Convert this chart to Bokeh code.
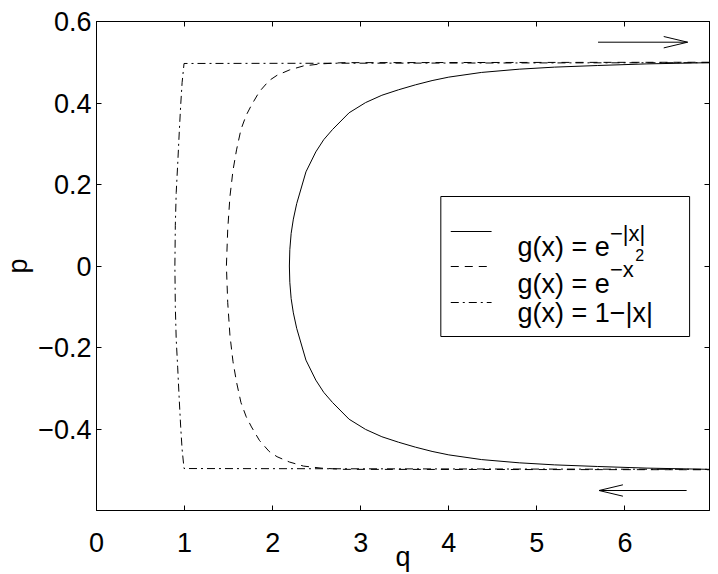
from bokeh.plotting import figure
from bokeh.models import (Range1d, FixedTicker, LinearAxis, BoxAnnotation, Label,
                          CustomJSTickFormatter)
from bokeh.embed import file_html
from bokeh.resources import INLINE

# ---------------- data ----------------
solid_q = [6.96, 6.25, 5.69, 5.2, 4.8, 4.37, 4.0, 3.81, 3.62, 3.43, 3.24, 3.055, 2.868, 2.68,
           2.58, 2.49, 2.378, 2.273, 2.235, 2.21, 2.195, 2.19, 2.195, 2.21, 2.235, 2.273,
           2.378, 2.49, 2.58, 2.68, 2.868, 3.055, 3.24, 3.43, 3.62, 3.81, 4.0, 4.37, 4.8,
           5.2, 5.69, 6.25, 6.96]
solid_p = [0.499, 0.496, 0.492, 0.488, 0.483, 0.475, 0.4635, 0.455, 0.4445, 0.4325, 0.419,
           0.401, 0.376, 0.335, 0.31, 0.280, 0.231, 0.153, 0.115, 0.08, 0.04, 0.0, -0.04,
           -0.08, -0.115, -0.153, -0.231, -0.280, -0.31, -0.335, -0.376, -0.401, -0.419,
           -0.4325, -0.4445, -0.455, -0.4635, -0.475, -0.483, -0.488, -0.492, -0.496, -0.499]

dashed_q = [6.96, 2.8, 2.55, 2.35, 2.19, 2.05, 1.96, 1.85, 1.76, 1.70, 1.64, 1.59, 1.55, 1.515,
            1.49, 1.475, 1.49, 1.515, 1.55, 1.59, 1.64, 1.70, 1.76, 1.85, 1.96, 2.05, 2.19,
            2.35, 2.55, 2.8, 6.96]
dashed_p = [0.5, 0.499, 0.496, 0.491, 0.481, 0.468, 0.455, 0.428, 0.395, 0.370, 0.335, 0.285,
            0.235, 0.17, 0.09, 0.0, -0.09, -0.17, -0.235, -0.285, -0.335, -0.370, -0.395,
            -0.428, -0.455, -0.468, -0.481, -0.491, -0.496, -0.499, -0.5]

dashdot_q = [6.96, 0.994, 0.972, 0.956, 0.94, 0.922, 0.905, 0.895, 0.89, 0.895, 0.905, 0.922,
             0.94, 0.956, 0.972, 0.994, 6.96]
dashdot_p = [0.499, 0.497, 0.45, 0.395, 0.33, 0.25, 0.18, 0.1, 0.0, -0.1, -0.18, -0.25, -0.33,
             -0.395, -0.45, -0.497, -0.499]

x_ticks = [0, 1, 2, 3, 4, 5, 6]
y_ticks = [-0.4, -0.2, 0, 0.2, 0.4, 0.6]
y_tick_labels = ["\u22120.4", "\u22120.2", "0", "0.2", "0.4", "0.6"]
x_tick_labels = ["0", "1", "2", "3", "4", "5", "6"]
x_title, y_title = "q", "p"

legend_labels = ["g(x) = e", "g(x) = e", "g(x) = 1\u2212|x|"]
legend_sups = ["\u2212|x|", "\u2212x", ""]
legend_supsups = ["", "2", ""]
legend_dashes = ["solid", "8 6", "8 4 2 4"]

XMIN, XMAX = 0.0, 6.96
YMIN, YMAX = -0.6, 0.6

# ---------------- layout (canvas pixels -> data helpers) ----------------
FX0, FX1 = 93.0, 709.0
FY0, FY1 = 21.0, 510.0
W, H = 718, 574


def dx(px):
    return XMIN + (px - FX0) / (FX1 - FX0) * (XMAX - XMIN)


def dy(py):
    return YMAX - (py - FY0) / (FY1 - FY0) * (YMAX - YMIN)


FONT = "Liberation Sans"
FS = "27px"

p = figure(width=W, height=H, output_backend="svg", toolbar_location=None,
           x_range=Range1d(XMIN, XMAX), y_range=Range1d(YMIN, YMAX),
           min_border_left=int(FX0), min_border_right=int(W - FX1),
           min_border_top=int(FY0), min_border_bottom=int(H - FY1),
           background_fill_color="white", border_fill_color="white")
p.grid.visible = False
p.outline_line_color = "black"
p.outline_line_width = 1

xa = p.xaxis[0]
xa.ticker = FixedTicker(ticks=x_ticks)
xa.major_label_overrides = {t: l for t, l in zip(x_ticks, x_tick_labels)}
xa.axis_label = x_title
xa.axis_label_standoff = -13
ya = p.yaxis[0]
ya.ticker = FixedTicker(ticks=y_ticks)
ya.major_label_overrides = {t: l for t, l in zip(y_ticks, y_tick_labels)}
ya.major_label_text_align = "right"
ya.axis_label = y_title
ya.axis_label_standoff = 2
for ax, st in ((xa, 22), (ya, 5)):
    ax.major_tick_in = 5
    ax.major_tick_out = 0
    ax.minor_tick_line_color = None
    ax.major_label_text_font = FONT
    ax.major_label_text_font_size = FS
    ax.major_label_text_color = "black"
    ax.axis_label_text_font = FONT
    ax.axis_label_text_font_size = FS
    ax.axis_label_text_font_style = "normal"
    ax.axis_label_text_color = "black"
    ax.axis_line_color = "black"
    ax.major_tick_line_color = "black"
    ax.major_label_standoff = st

for loc, tk in (("above", x_ticks), ("right", y_ticks)):
    ax = LinearAxis(ticker=FixedTicker(ticks=tk),
                    formatter=CustomJSTickFormatter(code="return ''"),
                    major_tick_in=5, major_tick_out=0, minor_tick_line_color=None,
                    major_label_text_font_size="0px", major_label_standoff=0,
                    axis_line_color="black", major_tick_line_color="black")
    p.add_layout(ax, loc)

# ---------------- legend box (under everything) ----------------
p.add_layout(BoxAnnotation(left=dx(439), right=dx(689), top=dy(196), bottom=dy(336),
                           fill_color="white", fill_alpha=1.0, line_color="black",
                           line_width=1, line_alpha=1.0, level="underlay"))

# ---------------- curves ----------------
p.line(solid_q, solid_p, line_color="black", line_width=1)
p.line(dashed_q, dashed_p, line_color="black", line_width=1, line_dash="8 6")
p.line(dashdot_q, dashdot_p, line_color="black", line_width=1, line_dash="8 4 2 4")

# ---------------- arrows ----------------
def arrow(x0, x1, yv):
    d = 1 if x1 > x0 else -1
    hl = 24.0 / (FX1 - FX0) * (XMAX - XMIN)
    hw = 5.7 / (FY1 - FY0) * (YMAX - YMIN)
    p.line([x0, x1], [yv, yv], line_color="black", line_width=1)
    p.line([x1 - d * hl, x1, x1 - d * hl], [yv + hw, yv, yv - hw], line_color="black",
           line_width=1)

arrow(dx(597), dx(687), dy(41.7))
arrow(dx(686), dx(598), dy(490))

# ---------------- legend entries ----------------
row_line_y = [231, 266, 302]
row_base_y = [246.5, 283.5, 312.5]
sup_base_y = [233, 268.5]
for i in range(3):
    p.line([dx(449), dx(490)], [dy(row_line_y[i])] * 2, line_color="black", line_width=1,
           line_dash=legend_dashes[i])
    p.add_layout(Label(x=dx(516), y=dy(row_base_y[i]), text=legend_labels[i],
                       text_font=FONT, text_font_size=FS, text_color="black",
                       text_baseline="alphabetic", text_align="left"))
    if legend_sups[i]:
        p.add_layout(Label(x=dx(609), y=dy(sup_base_y[i]), text=legend_sups[i],
                           text_font=FONT, text_font_size="22px", text_color="black",
                           text_baseline="alphabetic", text_align="left"))
    if legend_supsups[i]:
        p.add_layout(Label(x=dx(634.5), y=dy(254), text=legend_supsups[i],
                           text_font=FONT, text_font_size="16px", text_color="black",
                           text_baseline="alphabetic", text_align="left"))

open("out.html", "w").write(file_html(p, INLINE))
